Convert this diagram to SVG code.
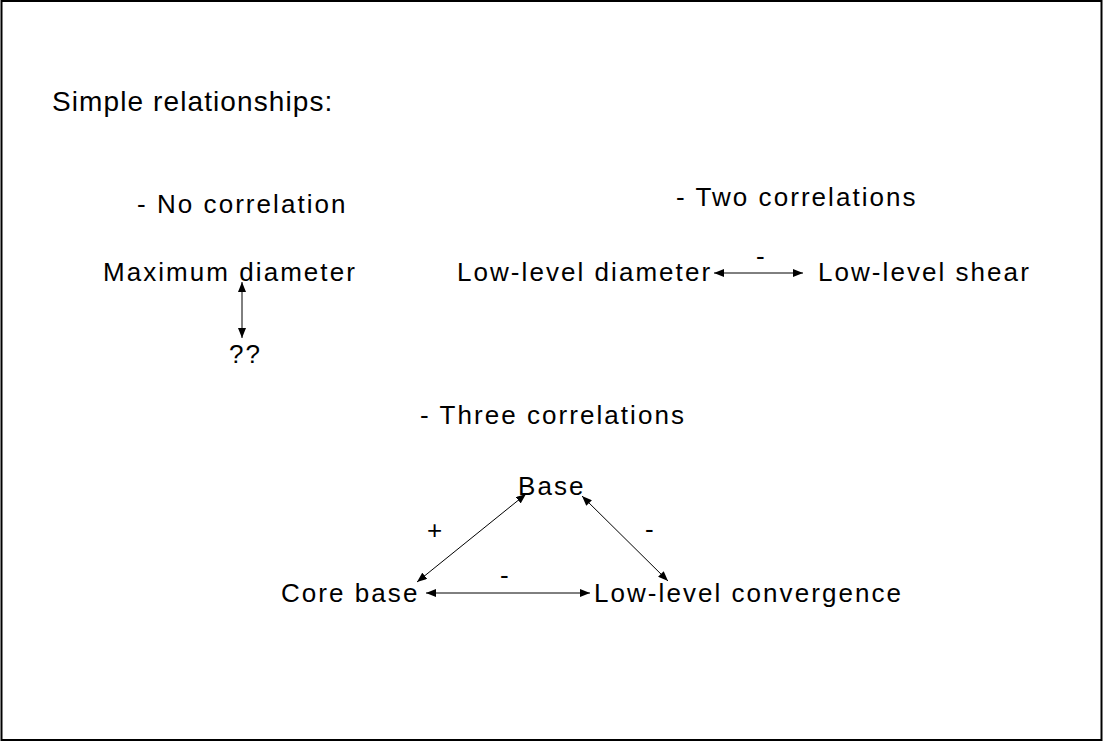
<svg xmlns="http://www.w3.org/2000/svg" width="1103" height="742" viewBox="0 0 1103 742">
  <defs>
    <marker id="tip" viewBox="0 0 10 8" refX="10" refY="4" markerWidth="10" markerHeight="8" markerUnits="userSpaceOnUse" orient="auto-start-reverse">
      <path d="M0,0 L10,4 L0,8 Z" fill="#000"/>
    </marker>
    <style>
      text { font-family: "Liberation Sans", Arial, sans-serif; fill: #000; }
      .title { font-size: 28px; letter-spacing: 1.1px; }
      .lbl { font-size: 26px; letter-spacing: 2.05px; }
      .conn line { stroke: #000; stroke-width: 1; marker-start: url(#tip); marker-end: url(#tip); }
    </style>
  </defs>
  <rect x="1.5" y="1" width="1100" height="739" fill="#fff" stroke="#000" stroke-width="2"/>

  <g id="title"><text class="title" x="52" y="111">Simple relationships:</text></g>

  <g id="heading-none"><text class="lbl" x="137" y="213">- No correlation</text></g>
  <g id="heading-two"><text class="lbl" x="676" y="206">- Two correlations</text></g>
  <g id="heading-three"><text class="lbl" x="420" y="424">- Three correlations</text></g>

  <g id="max-diameter"><text class="lbl" x="103" y="281">Maximum diameter</text></g>
  <g id="unknown"><text class="lbl" x="229" y="363">??</text></g>
  <g id="low-diameter"><text class="lbl" x="457" y="281">Low-level diameter</text></g>
  <g id="low-shear"><text class="lbl" x="818" y="281">Low-level shear</text></g>
  <g id="base"><text class="lbl" x="518" y="495">Base</text></g>
  <g id="core-base"><text class="lbl" x="281" y="602">Core base</text></g>
  <g id="low-convergence"><text class="lbl" x="594" y="602">Low-level convergence</text></g>

  <g id="connectors" class="conn">
    <line x1="242" y1="282" x2="242" y2="338"/>
    <line x1="714" y1="273" x2="803" y2="273"/>
    <line x1="417" y1="582" x2="526" y2="494"/>
    <line x1="582" y1="496" x2="668" y2="581"/>
    <line x1="426" y1="593" x2="590" y2="593"/>
  </g>

  <g id="signs">
    <text class="lbl" x="756" y="265">-</text>
    <text class="lbl" x="427" y="539">+</text>
    <text class="lbl" x="645" y="538">-</text>
    <text class="lbl" x="500" y="584">-</text>
  </g>
</svg>
